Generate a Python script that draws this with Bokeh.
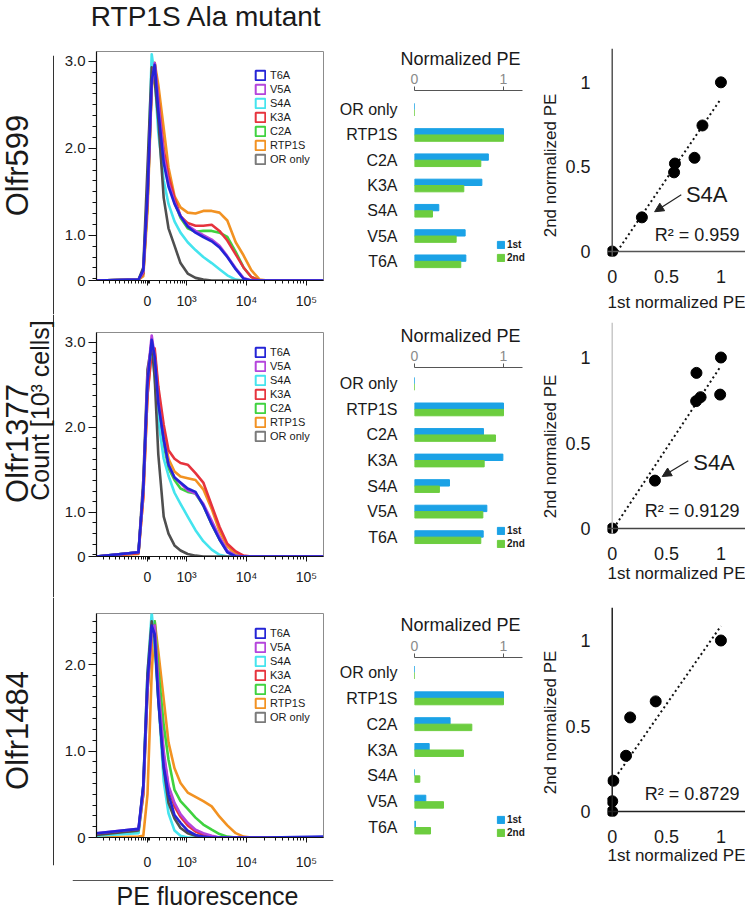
import numpy as np
from bokeh.plotting import figure
from bokeh.layouts import row, column
from bokeh.models import (Range1d, FactorRange, FixedTicker, Label, Span, Legend,
                          LegendItem, Arrow, NormalHead, ColumnDataSource)
from bokeh.transform import dodge
from bokeh.embed import file_html
from bokeh.resources import INLINE

FONT = "Liberation Sans"
TXT = "#1a1a1a"

# ---------------------------------------------------------------- data
# histogram x: display position on the biexponential PE axis
FLUOR_POS = [1.5, 2.2, 2.28, 2.35, 2.42, 2.47, 2.53, 2.62, 2.7, 2.8, 2.9, 3.02,
             3.15, 3.28, 3.42, 3.55, 3.68, 3.82, 3.95, 4.08, 4.22, 4.35, 5.28]
FLUOR_TICKS = [2.35, 3, 4, 5]
FLUOR_TICK_LABELS = ["0", "10\u00b3", "10\u2074", "10\u2075"]

SAMPLES = ["T6A", "V5A", "S4A", "K3A", "C2A", "RTP1S", "OR only"]

# counts (display units of the count axis)
olfr599_T6A = [0, 0.01, 0.12, 1.0, 2.3, 2.48, 1.95, 1.35, 1.08, 0.88, 0.74, 0.62, 0.55, 0.5, 0.45, 0.38, 0.27, 0.13, 0.02, 0, 0, 0, 0]
olfr599_V5A = [0, 0.01, 0.1, 0.95, 2.25, 2.5, 2.05, 1.42, 1.12, 0.9, 0.74, 0.63, 0.57, 0.52, 0.47, 0.4, 0.28, 0.14, 0.03, 0, 0, 0, 0]
olfr599_S4A = [0, 0.01, 0.12, 1.1, 2.6, 2.35, 1.7, 1.15, 0.88, 0.68, 0.55, 0.44, 0.35, 0.27, 0.2, 0.13, 0.06, 0.01, 0, 0, 0, 0, 0]
olfr599_K3A = [0, 0.01, 0.08, 0.9, 2.25, 2.5, 2.1, 1.5, 1.2, 0.95, 0.74, 0.66, 0.63, 0.63, 0.64, 0.57, 0.46, 0.3, 0.15, 0.04, 0, 0, 0]
olfr599_C2A = [0, 0.01, 0.08, 0.9, 2.25, 2.5, 2.05, 1.45, 1.12, 0.9, 0.72, 0.6, 0.56, 0.57, 0.57, 0.55, 0.5, 0.33, 0.15, 0.04, 0, 0, 0]
olfr599_RTP1S = [0, 0.01, 0.05, 0.8, 2.2, 2.5, 2.25, 1.75, 1.3, 0.97, 0.84, 0.78, 0.77, 0.8, 0.8, 0.78, 0.69, 0.44, 0.29, 0.12, 0.01, 0, 0]
olfr599_ORonly = [0, 0.01, 0.15, 1.3, 2.45, 2.3, 1.85, 0.95, 0.6, 0.4, 0.2, 0.08, 0.03, 0.01, 0, 0, 0, 0, 0, 0, 0, 0, 0]

olfr1377_T6A = [0, 0.05, 0.8, 2.05, 2.55, 2.35, 1.8, 1.38, 1.08, 0.93, 0.87, 0.8, 0.76, 0.6, 0.38, 0.2, 0.05, 0, 0, 0, 0, 0, 0]
olfr1377_V5A = [0, 0.05, 0.8, 2.1, 2.6, 2.35, 1.82, 1.38, 1.08, 0.93, 0.86, 0.78, 0.74, 0.62, 0.42, 0.23, 0.07, 0.01, 0, 0, 0, 0, 0]
olfr1377_S4A = [0, 0.05, 0.8, 2.1, 2.5, 2.1, 1.6, 1.15, 0.95, 0.75, 0.62, 0.47, 0.31, 0.18, 0.08, 0.02, 0, 0, 0, 0, 0, 0, 0]
olfr1377_K3A = [0, 0.04, 0.7, 1.9, 2.4, 2.45, 2.0, 1.55, 1.25, 1.15, 1.1, 1.08, 0.98, 0.87, 0.6, 0.35, 0.15, 0.06, 0.01, 0, 0, 0, 0]
olfr1377_C2A = [0, 0.05, 0.8, 2.0, 2.5, 2.35, 1.8, 1.32, 1.04, 0.9, 0.8, 0.76, 0.74, 0.6, 0.38, 0.2, 0.06, 0.01, 0, 0, 0, 0, 0]
olfr1377_RTP1S = [0, 0.03, 0.7, 1.9, 2.45, 2.4, 1.95, 1.45, 1.15, 1.0, 0.94, 0.92, 0.9, 0.79, 0.56, 0.3, 0.12, 0.03, 0, 0, 0, 0, 0]
olfr1377_ORonly = [0, 0.05, 0.9, 2.2, 2.5, 2.1, 1.2, 0.47, 0.27, 0.13, 0.07, 0.03, 0.01, 0, 0, 0, 0, 0, 0, 0, 0, 0, 0]

olfr1484_T6A = [0.05, 0.1, 0.6, 1.8, 2.45, 2.35, 1.6, 0.82, 0.5, 0.26, 0.17, 0.08, 0.03, 0.01, 0, 0, 0, 0, 0, 0, 0, 0, 0.01]
olfr1484_V5A = [0.05, 0.1, 0.55, 1.75, 2.4, 2.45, 1.75, 1.0, 0.6, 0.4, 0.27, 0.17, 0.09, 0.05, 0.02, 0, 0, 0, 0, 0, 0, 0, 0]
olfr1484_S4A = [0.02, 0.05, 0.6, 1.9, 2.6, 2.2, 1.6, 0.65, 0.28, 0.08, 0.02, 0, 0, 0, 0, 0, 0, 0, 0, 0, 0, 0, 0]
olfr1484_K3A = [0.04, 0.08, 0.5, 1.7, 2.35, 2.45, 1.7, 0.95, 0.58, 0.36, 0.24, 0.14, 0.07, 0.03, 0.01, 0, 0, 0, 0, 0, 0, 0, 0]
olfr1484_C2A = [0.03, 0.06, 0.5, 1.7, 2.4, 2.5, 1.95, 1.3, 0.9, 0.55, 0.42, 0.33, 0.23, 0.15, 0.09, 0.04, 0.01, 0, 0, 0, 0, 0, 0]
olfr1484_RTP1S = [0, 0.01, 0.02, 0.5, 1.9, 2.5, 2.15, 1.6, 1.1, 0.8, 0.63, 0.52, 0.47, 0.42, 0.36, 0.24, 0.14, 0.05, 0.01, 0, 0, 0, 0]
olfr1484_ORonly = [0.03, 0.08, 0.6, 1.9, 2.5, 2.3, 1.6, 0.8, 0.4, 0.22, 0.11, 0.05, 0.02, 0, 0, 0, 0, 0, 0, 0, 0, 0, 0]

# normalized PE (bar charts and scatter plots)
BAR_CATS = ["OR only", "RTP1S", "C2A", "K3A", "S4A", "V5A", "T6A"]
olfr599_first = [0, 1.0, 0.83, 0.757, 0.273, 0.569, 0.577]
olfr599_second = [0, 1.0, 0.745, 0.554, 0.202, 0.468, 0.52]
olfr1377_first = [0, 1.0, 0.775, 0.993, 0.393, 0.813, 0.772]
olfr1377_second = [0, 1.0, 0.91, 0.783, 0.28, 0.768, 0.745]
olfr1484_first = [0, 1.0, 0.40, 0.165, 0.0, 0.127, 0.01]
olfr1484_second = [0, 1.0, 0.644, 0.55, 0.06, 0.326, 0.18]

R2_TEXT = ["R\u00b2 = 0.959", "R\u00b2 = 0.9129", "R\u00b2 = 0.8729"]
ROW_NAMES = ["Olfr599", "Olfr1377", "Olfr1484"]

# ---------------------------------------------------------------- style
COLORS = {"T6A": "#2424d6", "V5A": "#b444dc", "S4A": "#44e4ee", "K3A": "#e6333d",
          "C2A": "#3fd23f", "RTP1S": "#f29222", "OR only": "#4f4f4f"}
LEG_COLORS = dict(COLORS)
LEG_COLORS["OR only"] = "#7a7a7a"
DRAW_ORDER = ["RTP1S", "C2A", "K3A", "S4A", "OR only", "V5A", "T6A"]
BLUE = "#1ba2e6"
GREEN = "#6ccd3f"

X_LEFT = 1.5
X_RIGHT = X_LEFT + 227 / 60.0
X_MINOR = ([1.62, 1.72, 1.81, 1.89, 1.96, 2.03, 2.09, 2.15, 2.2, 2.25, 2.29, 2.32, 2.37, 2.39]
           + [2.35 + 0.65 * np.log10(k) for k in range(2, 10)]
           + [3 + np.log10(k) for k in range(2, 10)]
           + [4 + np.log10(k) for k in range(2, 10)])


def deco(w, h, bl=0, br=0, bt=0, bb=0):
    p = figure(width=w, height=h, x_range=Range1d(0, 1), y_range=Range1d(0, 1),
               toolbar_location=None, output_backend="svg",
               x_axis_location=None, y_axis_location=None,
               min_border_left=bl, min_border_right=br, min_border_top=bt, min_border_bottom=bb)
    p.grid.visible = False
    p.outline_line_color = None
    return p


def lab(x, y, text, size, angle=0.0, align="center", baseline="middle", xu="screen", yu="screen"):
    return Label(x=x, y=y, x_units=xu, y_units=yu, text=text, angle=angle,
                 text_align=align, text_baseline=baseline, text_font=FONT,
                 text_font_size=size, text_color=TXT)


def make_hist(h, bt, bb, ypx, yt, ylabels, yminor, curves, leg_vy, xstand):
    fh = h - bt - bb
    p = figure(width=280, height=h, x_range=Range1d(X_LEFT, X_RIGHT), y_range=Range1d(0, fh / ypx),
               toolbar_location=None, output_backend="svg",
               min_border_left=41, min_border_right=12, min_border_top=bt, min_border_bottom=bb)
    p.grid.visible = False
    p.outline_line_color = "#8c8c8c"
    xa, ya = p.xaxis[0], p.yaxis[0]
    xa.ticker = FixedTicker(ticks=FLUOR_TICKS, minor_ticks=X_MINOR)
    xa.major_label_overrides = dict(zip(FLUOR_TICKS, FLUOR_TICK_LABELS))
    ya.ticker = FixedTicker(ticks=yt, minor_ticks=yminor)
    ya.major_label_overrides = dict(zip(yt, ylabels))
    for ax in (xa, ya):
        ax.axis_line_color = "#111111"
        ax.axis_line_width = 1.2
        ax.major_tick_line_color = "#111111"
        ax.minor_tick_line_color = "#111111"
        ax.major_tick_in = 0
        ax.minor_tick_in = 0
        ax.major_label_text_font = FONT
        ax.major_label_text_color = TXT
    xa.major_tick_out = 5
    xa.minor_tick_out = 3
    xa.major_label_standoff = xstand
    xa.major_label_text_font_size = "14px"
    ya.major_tick_out = 8
    ya.minor_tick_out = 4
    ya.major_label_standoff = 3
    ya.major_label_text_font_size = "15px"
    for name in DRAW_ORDER:
        p.line(FLUOR_POS, curves[name], line_color=COLORS[name], line_width=2.6, line_join="round")
    items = []
    for name in SAMPLES:
        r = p.quad(left=[np.nan], right=[np.nan], top=[np.nan], bottom=[np.nan],
                   fill_alpha=0, line_color=LEG_COLORS[name], line_width=2)
        items.append(LegendItem(label=name, renderers=[r]))
    leg = Legend(items=items, location=(158, leg_vy), glyph_width=12, glyph_height=12,
                 label_height=12, label_width=10, label_standoff=4, spacing=2, padding=0, margin=0,
                 border_line_color=None, background_fill_alpha=0,
                 label_text_font=FONT, label_text_font_size="11px", label_text_color=TXT)
    p.add_layout(leg)
    return p


def make_bar(h, bt, bb, pad, first, second, leg_vy, title_standoff):
    p = figure(width=205, height=h, x_range=Range1d(0, 114 / 89.0),
               y_range=FactorRange(factors=BAR_CATS[::-1], range_padding=pad,
                                   range_padding_units="absolute"),
               x_axis_location="above", toolbar_location=None, output_backend="svg",
               min_border_left=79, min_border_right=12, min_border_top=bt, min_border_bottom=bb)
    p.grid.visible = False
    p.outline_line_color = None
    p.title.text = "Normalized PE"
    p.title.align = "left"
    p.title.offset = -14
    p.title.standoff = title_standoff
    p.title.text_font = FONT
    p.title.text_font_size = "18px"
    p.title.text_font_style = "normal"
    p.title.text_color = TXT
    src = ColumnDataSource(dict(cat=BAR_CATS, first=first, second=second))
    r1 = p.hbar(y=dodge("cat", 0.125, range=p.y_range), right="first", height=0.25,
                color=BLUE, source=src)
    r2 = p.hbar(y=dodge("cat", -0.125, range=p.y_range), right="second", height=0.25,
                color=GREEN, source=src)
    xa, ya = p.xaxis[0], p.yaxis[0]
    xa.ticker = FixedTicker(ticks=[0, 1])
    xa.major_label_overrides = {0: "0", 1: "1"}
    xa.bounds = (0, 108 / 89.0)
    xa.axis_line_color = "#555555"
    xa.major_tick_line_color = "#555555"
    xa.major_tick_in = 0
    xa.major_tick_out = 4
    xa.minor_tick_line_color = None
    xa.major_label_standoff = 3
    xa.major_label_text_font = FONT
    xa.major_label_text_font_size = "14px"
    xa.major_label_text_color = "#8a8a8a"
    ya.axis_line_color = None
    ya.major_tick_line_color = None
    ya.minor_tick_line_color = None
    ya.major_label_standoff = 11
    ya.major_label_text_font = FONT
    ya.major_label_text_font_size = "16px"
    ya.major_label_text_color = TXT
    leg = Legend(items=[LegendItem(label="1st", renderers=[r1]), LegendItem(label="2nd", renderers=[r2])],
                 location=(82, leg_vy), glyph_width=9, glyph_height=9, label_height=10, label_width=10,
                 label_standoff=2, spacing=2, padding=0, margin=0, border_line_color=None,
                 background_fill_alpha=0, label_text_font=FONT, label_text_font_size="10px",
                 label_text_font_style="bold", label_text_color=TXT)
    p.add_layout(leg)
    return p


def make_ylabel(h, center_from_bottom):
    p = deco(22, h)
    p.add_layout(lab(10, center_from_bottom, "2nd normalized PE", "17px", angle=np.pi / 2))
    return p


def make_scatter(h, bt, bb, ypx, first, second, r2, vcol, hcol, xl_stand, s4a):
    fh = h - bt - bb
    x0 = -5 / 115.0
    x1 = x0 + 146 / 115.0
    y0 = -5 / ypx
    y1 = y0 + fh / ypx
    p = figure(width=183, height=h, x_range=Range1d(x0, x1), y_range=Range1d(y0, y1),
               toolbar_location=None, output_backend="svg",
               min_border_left=37, min_border_right=0, min_border_top=bt, min_border_bottom=bb)
    p.grid.visible = False
    p.outline_line_color = None
    for ax in (p.xaxis[0], p.yaxis[0]):
        ax.ticker = FixedTicker(ticks=[0, 0.5, 1])
        ax.major_label_overrides = {0: "0", 0.5: "0.5", 1: "1"}
        ax.axis_line_color = None
        ax.major_tick_line_color = None
        ax.minor_tick_line_color = None
        ax.major_label_text_font = FONT
        ax.major_label_text_font_size = "18px"
        ax.major_label_text_color = TXT
    p.xaxis.major_label_standoff = 7
    p.yaxis.major_label_standoff = 11
    p.xaxis.axis_label = "1st normalized PE"
    p.xaxis.axis_label_text_font = FONT
    p.xaxis.axis_label_text_font_size = "17px"
    p.xaxis.axis_label_text_font_style = "normal"
    p.xaxis.axis_label_text_color = TXT
    p.xaxis.axis_label_standoff = xl_stand
    p.add_layout(Span(location=0, dimension="height", line_color=vcol, line_width=1.5))
    p.add_layout(Span(location=0, dimension="width", line_color=hcol, line_width=1.5))
    m, b = np.polyfit(first, second, 1)
    xs = np.array([max(0.0, -b / m), 1.0])
    p.line(xs, m * xs + b, line_color="#111111", line_width=2, line_dash="2 3")
    p.scatter(first, second, size=11, color="#000000")
    p.add_layout(lab(1.17, 0.1, r2, "18px", align="right", xu="data", yu="data"))
    if s4a is not None:
        tx, ty, ax0, ay0, ax1, ay1 = s4a
        p.add_layout(lab(tx, ty, "S4A", "22px", align="left", xu="data", yu="data"))
        p.add_layout(Arrow(end=NormalHead(size=9, fill_color="#222222", line_color="#222222"),
                           x_start=ax0, y_start=ay0, x_end=ax1, y_end=ay1,
                           line_color="#222222", line_width=1.2))
    return p


def wrap(p):
    return column(p)


# ---------------------------------------------------------------- assemble
Y12_TICKS = [0, 0.52, 1.52, 2.52]
Y12_MINOR = [2.52 - 0.125 * k for k in range(21)]
Y3_TICKS = [0, 1, 2]
Y3_MINOR = [0.125 * k for k in range(21)]

c1 = dict(zip(SAMPLES, [olfr599_T6A, olfr599_V5A, olfr599_S4A, olfr599_K3A, olfr599_C2A, olfr599_RTP1S, olfr599_ORonly]))
c2 = dict(zip(SAMPLES, [olfr1377_T6A, olfr1377_V5A, olfr1377_S4A, olfr1377_K3A, olfr1377_C2A, olfr1377_RTP1S, olfr1377_ORonly]))
c3 = dict(zip(SAMPLES, [olfr1484_T6A, olfr1484_V5A, olfr1484_S4A, olfr1484_K3A, olfr1484_C2A, olfr1484_RTP1S, olfr1484_ORonly]))

# title (rows: 0-34)
tfig = deco(745, 34)
tfig.add_layout(lab(206, 18, "RTP1S Ala mutant", "28px"))

# row labels + separator
l1 = deco(55, 280, bt=21)
l1.add_layout(Span(location=53, location_units="screen", dimension="height", line_color="#333333", line_width=1))
l1.add_layout(lab(17, 149, ROW_NAMES[0], "31px", angle=np.pi / 2))
l2 = deco(55, 283)
l2.add_layout(Span(location=53, location_units="screen", dimension="height", line_color="#333333", line_width=1))
l2.add_layout(lab(17, 154, ROW_NAMES[1], "31px", angle=np.pi / 2))
l2.add_layout(lab(39, 187, "Count [10\u00b3 cells]", "25px", angle=np.pi / 2))
l3 = deco(55, 277, bb=9)
l3.add_layout(Span(location=53, location_units="screen", dimension="height", line_color="#333333", line_width=1))
l3.add_layout(lab(17, 135, ROW_NAMES[2], "31px", angle=np.pi / 2))

h1 = make_hist(280, 17, 34, 87.0, Y12_TICKS, ["0", "1.0", "2.0", "3.0"], Y12_MINOR, c1, 115, 7)
h2 = make_hist(283, 18, 41, 85.0, Y12_TICKS, ["0", "1.0", "2.0", "3.0"], Y12_MINOR, c2, 114, 7)
h3 = make_hist(277, 16, 37, 86.5, Y3_TICKS, ["0", "1.0", "2.0"], Y3_MINOR, c3, 114, 11)

b1 = make_bar(280, 56, 34, 0.26, olfr599_first, olfr599_second, 17, 4)
b2 = make_bar(283, 53, 44, 0.14, olfr1377_first, olfr1377_second, 4, 3)
b3 = make_bar(277, 60, 32, 0.08, olfr1484_first, olfr1484_second, 4, 6)

y1 = make_ylabel(280, 314 - 165)
y2 = make_ylabel(283, 597 - 446)
y3 = make_ylabel(277, 874 - 722)

s1 = make_scatter(280, 14, 57, 170.0, olfr599_first, olfr599_second, R2_TEXT[0], "#555555", "#555555", 7,
                  (0.678, 0.335, 0.635, 0.335, 0.39, 0.235))
s2 = make_scatter(283, 8, 64, 171.0, olfr1377_first, olfr1377_second, R2_TEXT[1], "#c8c8c8", "#444444", 1,
                  (0.745, 0.386, 0.70, 0.396, 0.46, 0.304))
s3 = make_scatter(277, 10, 58, 171.0, olfr1484_first, olfr1484_second, R2_TEXT[2], "#222222", "#222222", 0,
                  None)

# bottom label (874-909)
bfig = deco(745, 35, bl=72, br=412)
bfig.add_layout(Span(location=29, location_units="screen", dimension="width", line_color="#555555", line_width=1))
bfig.add_layout(lab(135, 14, "PE fluorescence", "25px"))

layout = column(wrap(tfig),
                row(wrap(l1), wrap(h1), wrap(b1), wrap(y1), wrap(s1)),
                row(wrap(l2), wrap(h2), wrap(b2), wrap(y2), wrap(s2)),
                row(wrap(l3), wrap(h3), wrap(b3), wrap(y3), wrap(s3)),
                wrap(bfig))

with open("out.html", "w") as f:
    f.write(file_html(layout, INLINE))
